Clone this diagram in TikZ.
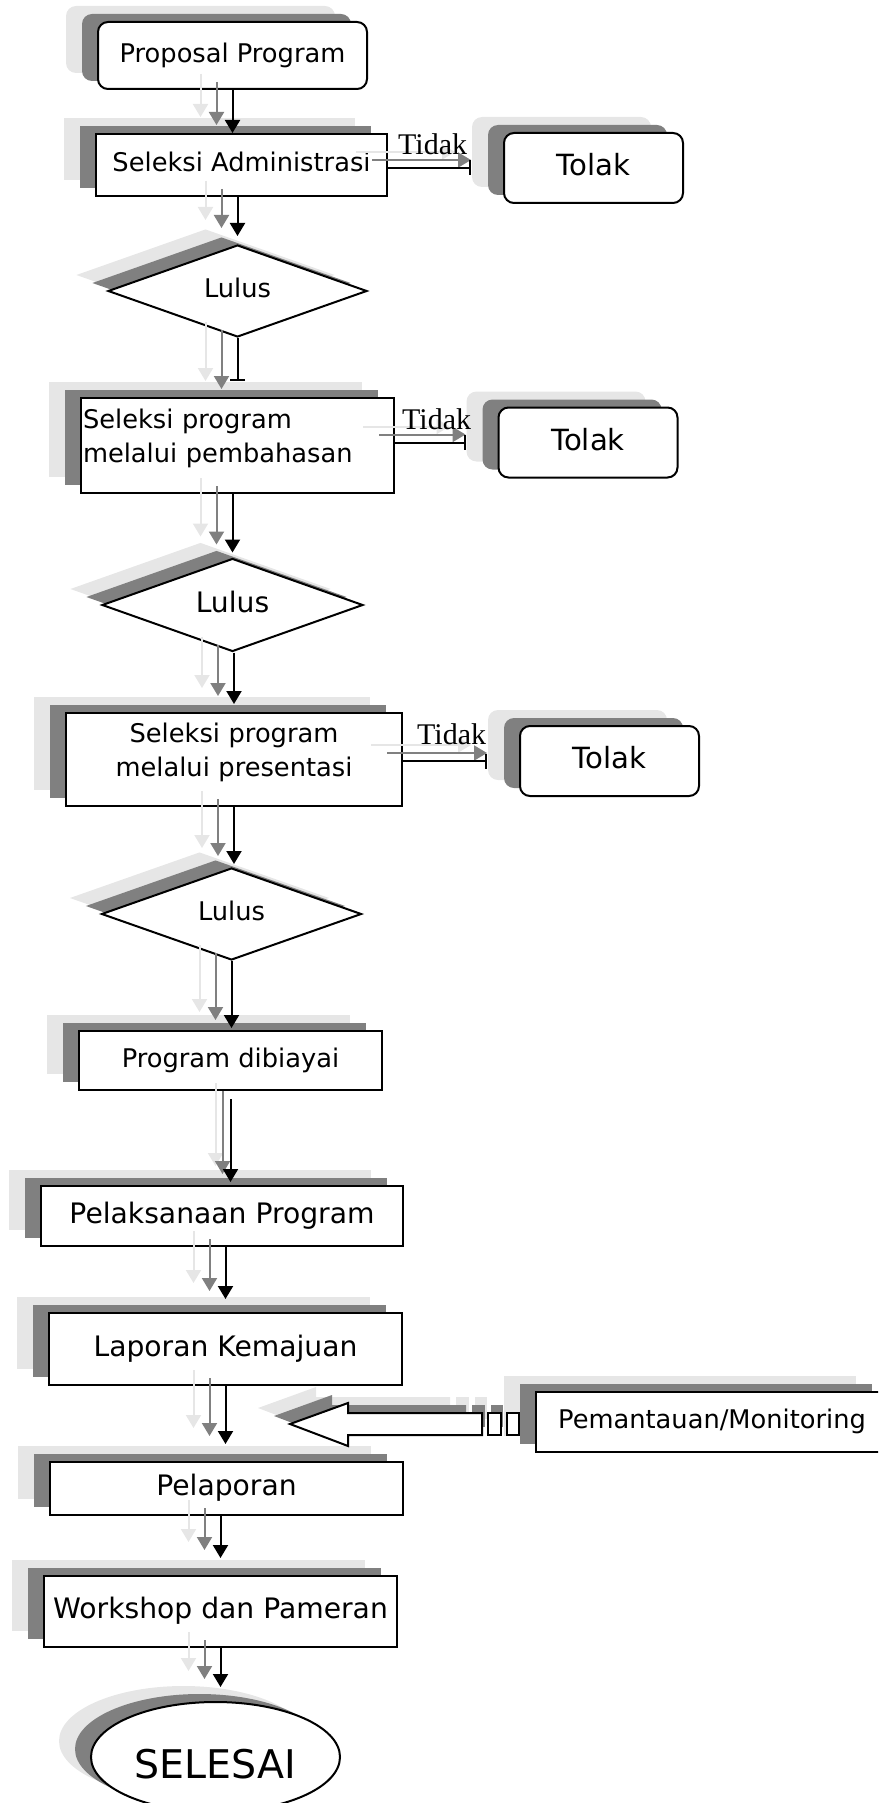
\documentclass[tikz,border=0pt]{standalone}
\usepackage{fontspec}
\setmainfont{DejaVu Sans}
\newfontfamily\tidakfont{Liberation Serif}
\usetikzlibrary{arrows.meta,shapes.geometric,shadows}

\definecolor{shadelight}{HTML}{E6E6E6}
\definecolor{shadedark}{HTML}{808080}

\newcommand{\boxfont}{\fontsize{25.7}{34.5}\selectfont}
\newcommand{\bigboxfont}{\fontsize{28.2}{36}\selectfont}

% one connector with its two grey copies
\newcommand{\flowtriple}[3][]{%
  \draw[flow, color=shadelight, #1, transform canvas={shift={(-32,-16)}}] #3;
  \draw[flow, color=shadedark, #1, transform canvas={shift={(-16,-8)}}] #3;
  \draw[flow, #1, #2] #3;
}

\tikzset{
  shadowed/.style={
    general shadow={fill=shadelight, shadow xshift=-32pt, shadow yshift=16pt},
    general shadow={fill=shadedark, shadow xshift=-16pt, shadow yshift=8pt}},
  stepbox/.style={shadowed, rectangle, draw, fill=white, line width=2pt, inner sep=0pt,
    font=\boxfont, text height=19.5pt, text depth=6.2pt},
  bigtext/.style={font=\bigboxfont, text height=21.4pt, text depth=6.8pt},
  roundbox/.style={stepbox, rounded corners=10pt},
  tolakbox/.style={roundbox, minimum width=179pt, minimum height=70pt,
    font=\fontsize{29.2}{34}\selectfont, text height=22pt, text depth=7pt},
  decision/.style={shadowed, diamond, draw, fill=white, line width=2pt, aspect=2.8,
    inner sep=0pt, font=\boxfont, text height=19.5pt, text depth=6.2pt},
  endstate/.style={shadowed, ellipse, draw, fill=white, line width=2pt, inner sep=0pt,
    font=\fontsize{39.5}{46}\selectfont, text height=42pt, text depth=0pt},
  tidaklabel/.style={font=\tidakfont\fontsize{30}{36}\selectfont, inner sep=0pt, anchor=base west},
  flow/.style={line width=2pt, -{Triangle[width=15pt,length=13pt]}},
  flowcut/.style={shorten >=16pt, -{Bar[width=15pt]}},
}

\begin{document}
\begin{tikzpicture}[x=1pt, y=-1pt]
  \useasboundingbox (0,0) rectangle (878,1803);
  \clip (0,0) rectangle (878,1803);

  % boxes
  \node[roundbox, minimum width=269pt, minimum height=67pt] (prop) at (232.5,55.5) {Proposal Program};
  \node[stepbox, minimum width=291pt, minimum height=62pt] (adm) at (241.5,165) {Seleksi Administrasi};
  \node[tolakbox] (tolak1) at (593.5,168) {Tolak};
  \node[decision, minimum width=259pt, minimum height=92pt] (lulus1) at (237.5,291) {Lulus};
  \node[stepbox, minimum width=313pt, minimum height=95pt, text width=309pt, align=left,
    text height=19.5pt, text depth=54.5pt] (pemb) at (237.5,445.5) {Seleksi program\\melalui pembahasan};
  \node[tolakbox] (tolak2) at (588,442.5) {Tolak};
  \node[decision, bigtext, minimum width=261pt, minimum height=93pt] (lulus2) at (232.5,605) {Lulus};
  \node[stepbox, minimum width=336pt, minimum height=93pt, text width=332pt, align=center,
    text height=19.5pt, text depth=54.5pt] (pres) at (234,759.5) {Seleksi program\\melalui presentasi};
  \node[tolakbox] (tolak3) at (609.5,761) {Tolak};
  \node[decision, minimum width=260pt, minimum height=92pt] (lulus3) at (231.5,914) {Lulus};
  \node[stepbox, minimum width=303pt, minimum height=59pt] (dib) at (230.5,1060.5) {Program dibiayai};
  \node[stepbox, bigtext, minimum width=362pt, minimum height=60pt] (pelak) at (222,1216) {Pelaksanaan Program};
  \node[stepbox, bigtext, minimum width=353pt, minimum height=72pt] (lap) at (225.5,1349) {Laporan Kemajuan};
  \node[stepbox, bigtext, minimum width=353pt, minimum height=53pt] (pel) at (226.5,1488.5) {Pelaporan};
  \node[stepbox, minimum width=352pt, minimum height=60pt] (mon) at (712,1422) {Pemantauan/Monitoring};
  \node[stepbox, bigtext, minimum width=353pt, minimum height=71pt] (work) at (220.5,1611.5) {Workshop dan Pameran};
  \node[endstate, minimum width=249pt, minimum height=110pt] (sel) at (215.5,1757) {SELESAI};

  % arrows
  \flowtriple{}{(prop.south) -- (prop.south |- adm.north)}
  \flowtriple[shorten >=8pt]{}{(adm.south -| lulus1.north) -- (lulus1.north)}
  \flowtriple{flowcut}{(adm.east |- tolak1.west) -- ([xshift=-16pt]tolak1.west)}
  \flowtriple{flowcut}{(lulus1.south) -- (lulus1.south |- pemb.north)}
  \flowtriple[shorten >=5pt]{}{(pemb.south -| lulus2.north) -- (lulus2.north)}
  \flowtriple{flowcut}{(pemb.east |- tolak2.west) -- ([xshift=-16pt]tolak2.west)}
  \flowtriple[shorten >=8pt]{}{(lulus2.south -| pres.north) -- (pres.north)}
  \flowtriple{flowcut}{(pres.east |- tolak3.west) -- ([xshift=-16pt]tolak3.west)}
  \flowtriple[shorten >=3pt]{}{(pres.south) -- (pres.south |- lulus3.north)}
  \flowtriple[shorten >=2pt]{}{(lulus3.south) -- (lulus3.south |- dib.north)}
  \draw[flow, color=shadelight, shorten <=8pt, shorten >=3pt, transform canvas={shift={(-15,-16)}}] (dib.south) -- (dib.south |- pelak.north);
  \draw[flow, color=shadedark, shorten <=8pt, shorten >=3pt, transform canvas={shift={(-8,-8)}}] (dib.south) -- (dib.south |- pelak.north);
  \draw[flow, shorten <=8pt, shorten >=3pt] (dib.south) -- (dib.south |- pelak.north);
  \flowtriple[shorten >=13pt]{}{(pelak.south -| lap.north) -- (lap.north)}
  \flowtriple[shorten >=17pt]{}{(lap.south) -- (lap.south |- pel.north)}
  \flowtriple[shorten >=17pt]{}{(pel.south -| work.north) -- (work.north)}
  \flowtriple[shorten >=14pt]{}{(work.south) -- (work.south |- sel.north)}

  % block arrow from monitoring
  \foreach \s/\c/\d in {-32/shadelight/none, -16/shadedark/none, 0/white/black}{
    \begin{scope}[shift={(\s,\s/2)}]
      \filldraw[fill=\c, draw=\d, line width=2pt] (482,1413) -- (348,1413) -- (348,1403) -- (290,1424)
        -- (348,1446) -- (348,1435) -- (482,1435) -- cycle;
      \filldraw[fill=\c, draw=\d, line width=2pt] (488,1413) rectangle (501,1435);
      \filldraw[fill=\c, draw=\d, line width=2pt] (507,1413) rectangle (519,1435);
    \end{scope}
  }

  \node[tidaklabel] (tidak1) at (398,155) {Tidak};
  \node[tidaklabel] (tidak2) at (402,429) {Tidak};
  \node[tidaklabel] (tidak3) at (417,744) {Tidak};
\end{tikzpicture}
\end{document}
